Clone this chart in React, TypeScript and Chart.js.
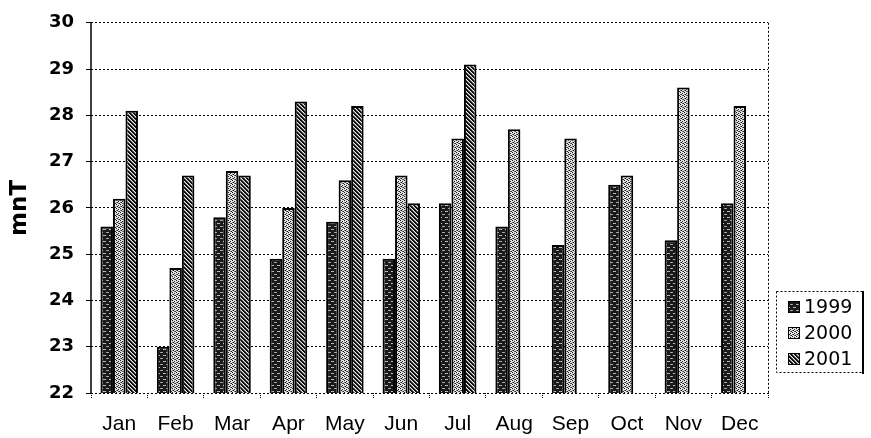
import React, { useEffect, useRef } from 'react';
import { Chart, registerables } from 'chart.js';

Chart.register(...registerables);

const months = ['Jan', 'Feb', 'Mar', 'Apr', 'May', 'Jun', 'Jul', 'Aug', 'Sep', 'Oct', 'Nov', 'Dec'];
const series1999 = [25.6, 23.0, 25.8, 24.9, 25.7, 24.9, 26.1, 25.6, 25.2, 26.5, 25.3, 26.1];
const series2000 = [26.2, 24.7, 26.8, 26.0, 26.6, 26.7, 27.5, 27.7, 27.5, 26.7, 28.6, 28.2];
const series2001 = [28.1, 26.7, 26.7, 28.3, 28.2, 26.1, 29.1, null, null, null, null, null];
const seriesLabels = ['1999', '2000', '2001'];
const yMin = 22;
const yMax = 30;
const yStep = 1;
const yTitle = 'mnT';

function makePattern(ctx: CanvasRenderingContext2D, kind: number): CanvasPattern | string {
  const c = document.createElement('canvas');
  const size = kind === 0 ? 6 : 4;
  c.width = size;
  c.height = size;
  const g = c.getContext('2d');
  if (!g) return '#888';
  const px = (x: number, y: number, col: string) => {
    g.fillStyle = col;
    g.fillRect(x, y, 1, 1);
  };
  if (kind === 0) {
    g.fillStyle = '#1a1a1a';
    g.fillRect(0, 0, size, size);
    px(1, 1, '#c4c4c4');
    px(2, 1, '#a8a8a8');
    px(3, 1, '#c4c4c4');
    px(4, 4, '#9a9a9a');
    px(5, 4, '#b8b8b8');
    px(0, 4, '#9a9a9a');
  } else if (kind === 1) {
    g.fillStyle = '#e4e4e4';
    g.fillRect(0, 0, size, size);
    px(0, 0, '#111');
    px(2, 1, '#222');
    px(1, 2, '#111');
    px(3, 3, '#222');
    px(2, 3, '#666');
    px(0, 2, '#777');
  } else {
    g.fillStyle = '#eeeeee';
    g.fillRect(0, 0, size, size);
    for (let y = 0; y < size; y++) {
      for (let x = 0; x < size; x++) {
        const d = (x - y + 8) % 4;
        if (d === 0 || d === 1) px(x, y, '#0d0d0d');
        else if (d === 2) px(x, y, '#777');
      }
    }
  }
  return ctx.createPattern(c, 'repeat') || '#888';
}

const overlayPlugin = {
  id: 'overlay',
  afterDraw(chart: any) {
    const { ctx, chartArea } = chart;
    ctx.save();
    ctx.strokeStyle = '#000';
    ctx.lineWidth = 1;
    ctx.setLineDash([2, 2]);
    ctx.beginPath();
    ctx.moveTo(Math.round(chartArea.right) + 0.5, chartArea.top);
    ctx.lineTo(Math.round(chartArea.right) + 0.5, chartArea.bottom);
    ctx.stroke();

    ctx.setLineDash([]);
    ctx.lineWidth = 1.5;
    ctx.beginPath();
    ctx.moveTo(Math.round(chartArea.left), chartArea.top);
    ctx.lineTo(Math.round(chartArea.left), chartArea.bottom);
    ctx.stroke();

    const lx = 776;
    const ly = 291;
    const lw = 86;
    const lh = 81;
    ctx.lineWidth = 1;
    ctx.setLineDash([2, 2]);
    ctx.strokeRect(lx + 0.5, ly + 0.5, lw, lh);
    ctx.setLineDash([]);
    ctx.lineWidth = 2;
    ctx.beginPath();
    ctx.moveTo(lx + lw + 1, ly);
    ctx.lineTo(lx + lw + 1, ly + lh + 2);
    ctx.stroke();

    chart.data.datasets.forEach((ds: any, i: number) => {
      const cy = ly + 16 + i * 26;
      ctx.fillStyle = ds.backgroundColor;
      ctx.fillRect(lx + 12, cy - 6, 12, 12);
      ctx.lineWidth = 1;
      ctx.strokeStyle = '#000';
      ctx.strokeRect(lx + 12.5, cy - 5.5, 11, 11);
      ctx.fillStyle = '#000';
      ctx.font = '19px "DejaVu Sans"';
      ctx.textBaseline = 'middle';
      ctx.textAlign = 'left';
      ctx.fillText(ds.label, lx + 28, cy + 1);
    });
    ctx.restore();
  },
};

export default function App() {
  const canvasRef = useRef<HTMLCanvasElement | null>(null);

  useEffect(() => {
    const canvas = canvasRef.current;
    if (!canvas) return;
    const ctx = canvas.getContext('2d');
    if (!ctx) return;
    const fills = [makePattern(ctx, 0), makePattern(ctx, 1), makePattern(ctx, 2)];
    const values = [series1999, series2000, series2001];

    const chart = new Chart(ctx, {
      type: 'bar',
      data: {
        labels: months,
        datasets: values.map((v, i) => ({
          label: seriesLabels[i],
          data: v as any,
          backgroundColor: fills[i] as any,
          borderColor: '#000',
          borderWidth: 2,
          categoryPercentage: 0.665,
          barPercentage: 1.0,
        })),
      },
      options: {
        animation: false,
        responsive: false,
        maintainAspectRatio: false,
        layout: { padding: { top: 19, right: 103, left: 0, bottom: 0 } },
        plugins: {
          legend: { display: false },
          tooltip: { enabled: false },
        },
        scales: {
          x: {
            offset: true,
            grid: {
              display: true,
              drawOnChartArea: false,
              drawTicks: true,
              tickLength: 5,
              color: '#000',
              offset: true,
              tickBorderDash: [1, 1],
            },
            border: { display: false },
            ticks: {
              color: '#000',
              font: { family: '"Liberation Sans", Arial, sans-serif', size: 21 },
              padding: 14,
              maxRotation: 0,
              autoSkip: false,
            },
            afterFit: (s: any) => {
              s.height = 45;
            },
          },
          y: {
            min: yMin,
            max: yMax,
            ticks: {
              stepSize: yStep,
              color: '#000',
              font: { family: '"DejaVu Sans", sans-serif', size: 18, weight: 'bold' },
              padding: 12,
            },
            grid: { color: '#000', tickLength: 5, lineWidth: 1 },
            border: { display: false, color: '#000', width: 1, dash: [2, 2] },
            title: {
              display: true,
              text: yTitle,
              color: '#000',
              font: { family: '"DejaVu Sans", sans-serif', size: 23, weight: 'bold' },
              padding: { top: 6, bottom: 0 },
            },
            afterFit: (s: any) => {
              s.width = 91;
            },
          },
        },
      } as any,
      plugins: [overlayPlugin],
    });

    return () => chart.destroy();
  }, []);

  return (
    <div style={{ position: 'fixed', left: 0, top: 0, width: 871, height: 438, background: '#fff' }}>
      <canvas ref={canvasRef} width={871} height={438} style={{ display: 'block' }} />
    </div>
  );
}
